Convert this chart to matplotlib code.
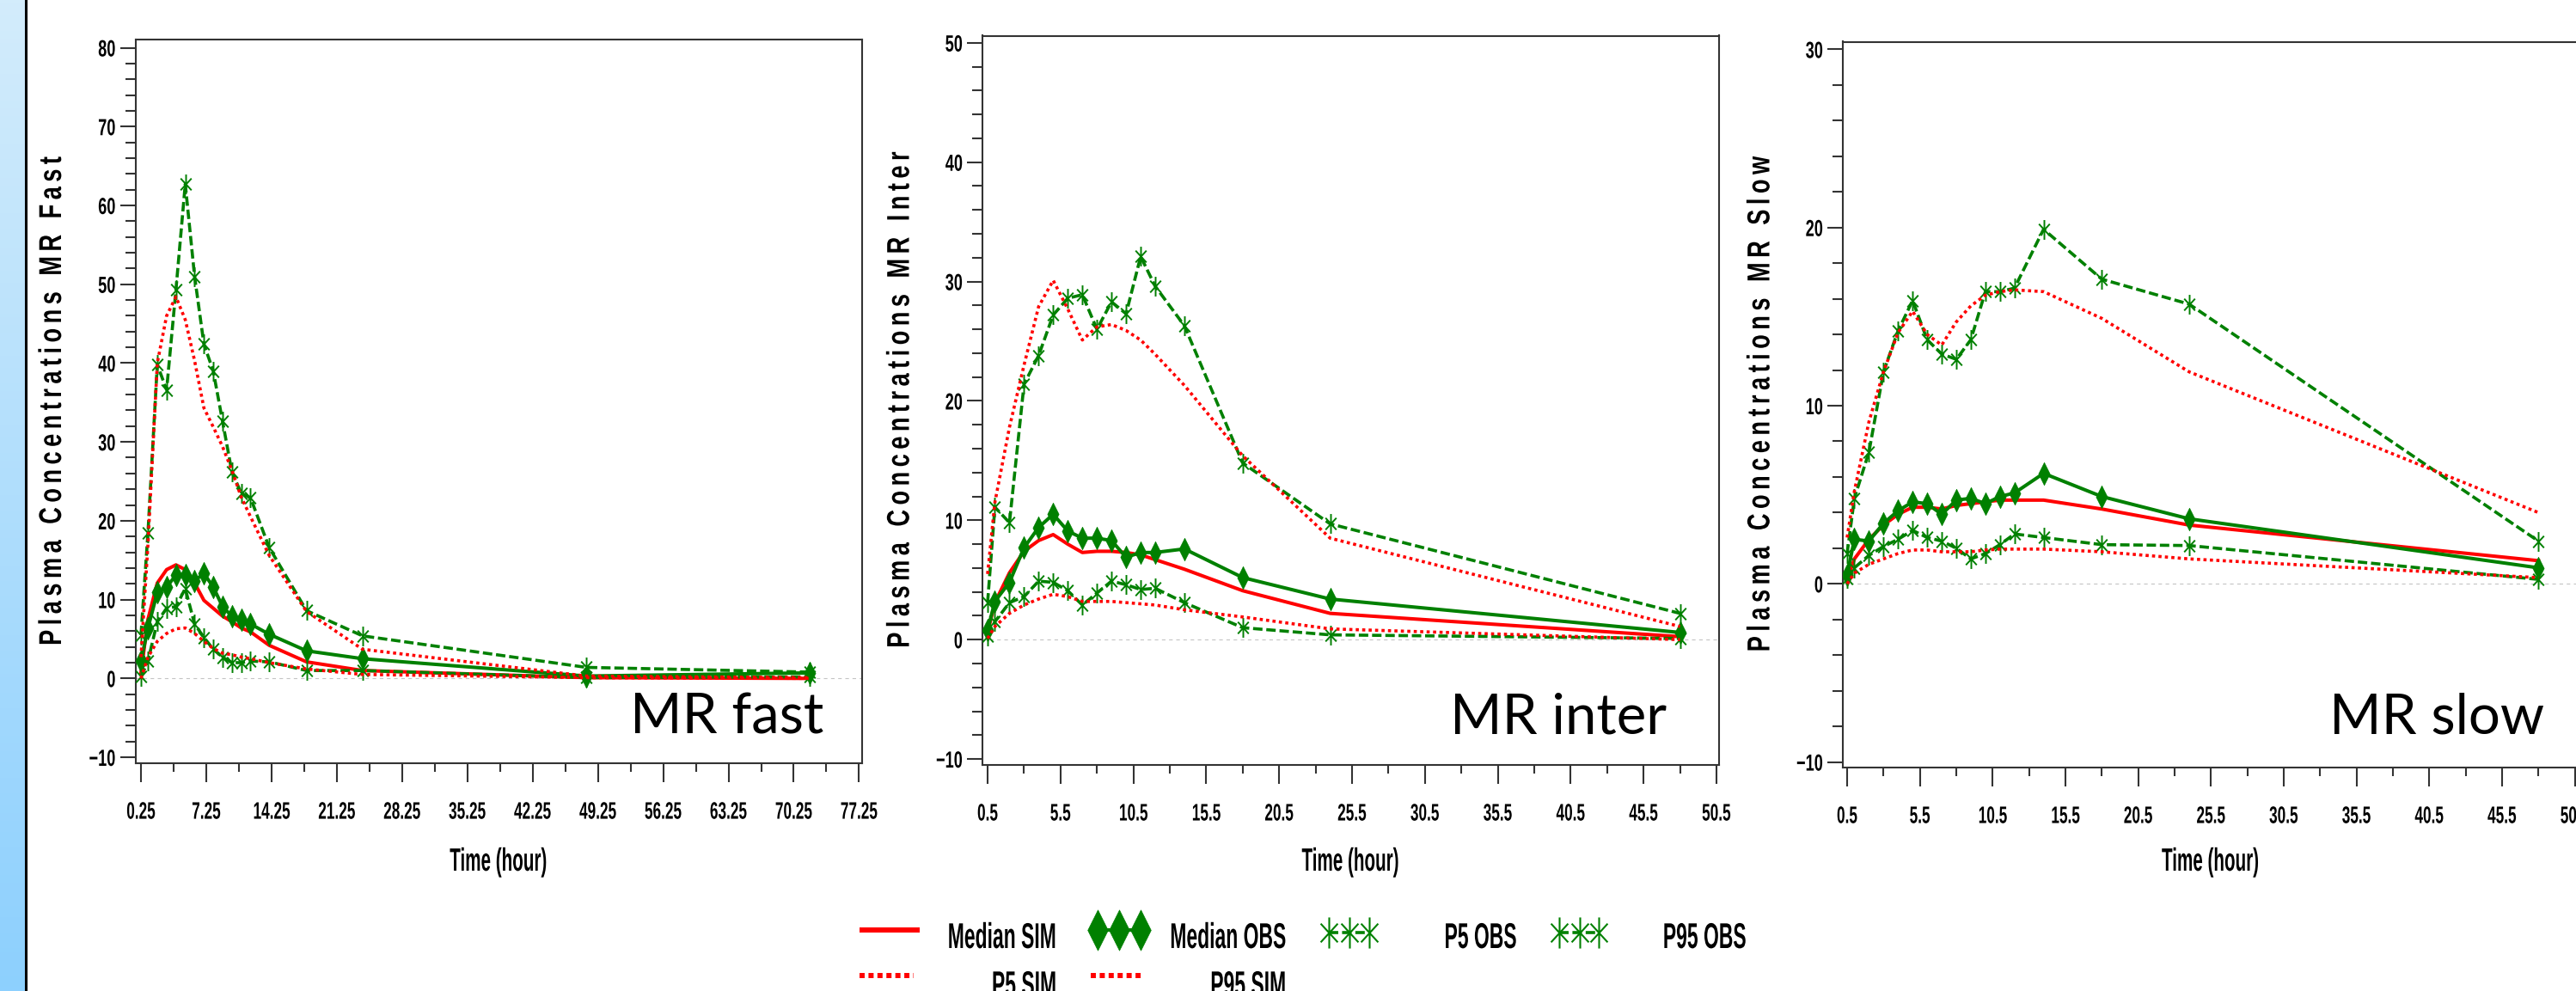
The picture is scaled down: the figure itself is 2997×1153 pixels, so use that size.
import numpy as np
import matplotlib
matplotlib.use('Agg')
import matplotlib.pyplot as plt
from matplotlib.patheffects import AbstractPathEffect
from matplotlib.transforms import Affine2D
from matplotlib.path import Path
from matplotlib.lines import Line2D
from matplotlib.ticker import MultipleLocator
from matplotlib.colors import LinearSegmentedColormap

plt.rcParams['font.family'] = ['Liberation Sans', 'DejaVu Sans']
plt.rcParams['lines.scale_dashes'] = False

# --- data ---
t_fast = [0.25, 1, 2, 3, 4, 5, 6, 7, 8, 9, 10, 11, 12, 14, 18, 24, 48, 72]
fast_med_sim = [0.7, 7.5, 12.1, 13.8, 14.4, 13.8, 12.1, 9.9, 8.9, 7.9, 7.2, 6.4, 5.9, 4.2, 2.1, 1.0, 0.1, 0.0]
fast_med_obs = [2.2, 6.4, 10.9, 11.6, 13.1, 13.1, 12.4, 13.3, 11.6, 9.1, 7.9, 7.4, 6.9, 5.6, 3.5, 2.5, 0.3, 0.7]
fast_p5_obs = [0.2, 2.2, 7.2, 8.9, 9.1, 11.4, 6.9, 5.2, 3.7, 2.7, 2.0, 2.0, 2.2, 2.1, 1.0, 1.0, 0.1, 0.2]
fast_p95_obs = [5.5, 18.5, 39.8, 36.6, 49.3, 62.7, 51.0, 42.4, 39.0, 32.6, 26.2, 23.5, 22.9, 16.6, 8.6, 5.4, 1.4, 0.8]
fast_p5_sim = [0.0, 2.7, 4.7, 5.7, 6.3, 6.4, 5.7, 4.7, 3.8, 3.2, 3.0, 2.7, 2.5, 2.0, 1.2, 0.5, 0.1, 0.0]
fast_p95_sim = [2.7, 17.0, 40.0, 46.0, 48.4, 45.5, 40.3, 34.3, 31.9, 29.4, 26.4, 23.0, 20.5, 15.6, 8.5, 3.7, 0.3, 0.1]

t_mr = [0.5, 1, 2, 3, 4, 5, 6, 7, 8, 9, 10, 11, 12, 14, 18, 24, 48]
inter_med_sim = [0.6, 3.1, 5.6, 7.4, 8.3, 8.8, 8.0, 7.3, 7.4, 7.4, 7.3, 7.1, 6.7, 5.9, 4.1, 2.2, 0.25]
inter_med_obs = [0.8, 3.2, 4.8, 7.7, 9.4, 10.5, 9.1, 8.5, 8.5, 8.3, 6.9, 7.3, 7.3, 7.6, 5.2, 3.4, 0.6]
inter_p5_obs = [0.3, 1.5, 3.1, 3.6, 4.9, 4.8, 4.1, 2.9, 3.9, 4.9, 4.6, 4.2, 4.3, 3.1, 1.0, 0.4, 0.1]
inter_p95_obs = [3.1, 11.1, 9.8, 21.4, 23.8, 27.2, 28.6, 28.9, 26.0, 28.3, 27.3, 32.1, 29.6, 26.3, 14.8, 9.7, 2.2]
inter_p5_sim = [0.1, 1.1, 2.2, 2.9, 3.4, 3.8, 3.6, 3.2, 3.2, 3.2, 3.1, 3.0, 2.9, 2.5, 1.9, 0.9, 0.0]
inter_p95_sim = [5.5, 11.5, 17.8, 23.0, 27.9, 30.1, 27.7, 25.1, 26.2, 26.4, 25.9, 25.1, 23.9, 21.3, 15.4, 8.5, 1.1]

slow_med_sim = [0.2, 1.4, 2.5, 3.3, 3.9, 4.3, 4.3, 4.2, 4.4, 4.5, 4.6, 4.7, 4.7, 4.7, 4.2, 3.3, 1.3]
slow_med_obs = [0.5, 2.5, 2.4, 3.4, 4.1, 4.6, 4.5, 3.9, 4.7, 4.8, 4.5, 4.9, 5.1, 6.2, 4.9, 3.65, 0.9]
slow_p5_obs = [0.3, 0.9, 1.6, 2.1, 2.5, 3.0, 2.6, 2.4, 2.0, 1.4, 1.7, 2.2, 2.8, 2.6, 2.2, 2.15, 0.25]
slow_p95_obs = [1.7, 4.8, 7.4, 11.9, 14.2, 15.9, 13.7, 12.9, 12.6, 13.7, 16.4, 16.4, 16.6, 19.9, 17.1, 15.7, 2.4]
slow_p5_sim = [0.0, 0.6, 1.1, 1.4, 1.7, 1.9, 1.9, 1.8, 1.8, 1.8, 1.9, 1.95, 1.95, 1.95, 1.8, 1.4, 0.35]
slow_p95_sim = [2.6, 5.2, 9.1, 11.9, 14.1, 15.3, 14.0, 13.4, 14.7, 15.6, 16.2, 16.4, 16.5, 16.4, 14.9, 11.9, 4.0]

panel_names = ['MR fast', 'MR inter', 'MR slow']
ylabels = ['Plasma Concentrations MR Fast', 'Plasma Concentrations MR Inter', 'Plasma Concentrations MR Slow']
legend_labels = ['Median SIM', 'Median OBS', 'P5 OBS', 'P95 OBS', 'P5 SIM', 'P95 SIM']

GREEN = '#008000'
RED = '#ff0000'
DARK = '#333333'


# the SAS graphs were pasted squashed sideways, so its text is narrow
class Squeeze(AbstractPathEffect):
    def __init__(self, sx, anchor='center'):
        super().__init__()
        self.sx = sx
        self.anchor = anchor

    def draw_path(self, renderer, gc, tpath, affine, rgbFace=None):
        ext = tpath.get_extents()
        x0 = {'left': ext.x0, 'center': 0.5 * (ext.x0 + ext.x1), 'right': ext.x1}[self.anchor]
        sq = Affine2D().translate(-x0, 0).scale(self.sx, 1).translate(x0, 0)
        renderer.draw_path(gc, tpath, sq + affine, rgbFace)


def spaced(s):
    # SAS letter-spaces its rotated axis labels
    words = s.split(' ')
    return '\u2009 \u2009'.join('\u2009'.join(w) for w in words)


diamond = Path([(0, -1), (0.5, 0), (0, 1), (-0.5, 0), (0, -1)],
               [Path.MOVETO, Path.LINETO, Path.LINETO, Path.LINETO, Path.CLOSEPOLY])
star = Path([(0, -1), (0, 1), (-0.55, -0.6), (0.55, 0.6), (-0.55, 0.6), (0.55, -0.6)],
            [Path.MOVETO, Path.LINETO] * 3)

DASH = (0, (7.9, 3.2))
DOT = (0, (2.6, 2.8))

W, H = 2997, 1153
fig = plt.figure(figsize=(W / 100, H / 100), dpi=100, facecolor='white')


def fx(px):
    return px / W


def fy(py):
    return 1 - py / H


# blue strip on the left
bar = fig.add_axes([0, 0, fx(29), 1])
grad = np.linspace(0, 1, 256)[:, None]
bar.imshow(grad, aspect='auto', cmap=LinearSegmentedColormap.from_list('b', ['#d3ecfb', '#8dd0fe']))
bar.axis('off')
fig.add_artist(Line2D([fx(30), fx(30)], [0, 1], color='black', lw=2.2))

# panel boxes in pixels: left, top, right, bottom
boxes = [(157.5, 46, 1003, 888), (1143, 41.5, 2000, 890), (2144, 48.5, 3000, 893)]
xlims = [(-0.35, 77.58), (0.146, 50.68), (0.205, 50.76)]
ylims = [(-10.76, 81.04), (-10.5, 50.6), (-10.31, 30.43)]
ytops = [80, 50, 30]
times = [t_fast, t_mr, t_mr]
series = [
    [fast_med_sim, fast_med_obs, fast_p5_obs, fast_p95_obs, fast_p5_sim, fast_p95_sim],
    [inter_med_sim, inter_med_obs, inter_p5_obs, inter_p95_obs, inter_p5_sim, inter_p95_sim],
    [slow_med_sim, slow_med_obs, slow_p5_obs, slow_p95_obs, slow_p5_sim, slow_p95_sim],
]
label_x = [733, 1687, 2710]
ylab_x = [61.5, 1048, 2049]

for i in range(3):
    l, t, r, b = boxes[i]
    ax = fig.add_axes([fx(l), fy(b), (r - l) / W, (b - t) / H])
    x = times[i]
    med_sim, med_obs, p5_obs, p95_obs, p5_sim, p95_sim = series[i]

    ax.axhline(0, color='#c4c4c4', lw=0.8, ls=(0, (3, 3)), zorder=1)
    ax.plot(x, med_sim, color=RED, lw=2.9, zorder=3)
    ax.plot(x, med_obs, color=GREEN, lw=2.9, marker=diamond, ms=19,
            mfc=GREEN, mec=GREEN, mew=0.5, zorder=4)
    ax.plot(x, p5_obs, color=GREEN, lw=2.6, ls=DASH, marker=star, ms=16.5,
            mfc='none', mec=GREEN, mew=1.4, zorder=5)
    ax.plot(x, p95_obs, color=GREEN, lw=2.6, ls=DASH, marker=star, ms=16.5,
            mfc='none', mec=GREEN, mew=1.4, zorder=5)
    ax.plot(x, p5_sim, color=RED, lw=2.6, ls=DOT, zorder=6)
    ax.plot(x, p95_sim, color=RED, lw=2.6, ls=DOT, zorder=6)

    ax.set_xlim(*xlims[i])
    ax.set_ylim(*ylims[i])

    if i == 0:
        xt = np.arange(0.25, 78, 7)
        ax.xaxis.set_minor_locator(MultipleLocator(3.5, offset=0.25))
    else:
        xt = np.arange(0.5, 51, 5)
        ax.xaxis.set_minor_locator(MultipleLocator(2.5, offset=0.5))
    ax.set_xticks(xt, labels=[f'{v:g}' for v in xt])
    ax.set_yticks(np.arange(-10, ytops[i] + 1, 10))
    ax.yaxis.set_minor_locator(MultipleLocator(2))

    for sp in ax.spines.values():
        sp.set_color(DARK)
        sp.set_linewidth(1.5)
    ax.tick_params(axis='x', which='major', direction='out', length=15.6, width=1.5,
                   color=DARK, pad=16.5, labelsize=20)
    ax.tick_params(axis='x', which='minor', direction='out', length=7.2, width=1.5, color=DARK)
    ax.tick_params(axis='y', which='major', direction='out', length=13.3, width=1.5,
                   color=DARK, pad=3, labelsize=19.5)
    ax.tick_params(axis='y', which='minor', direction='out', length=8.6, width=1.5, color=DARK)
    for lab in ax.get_xticklabels():
        lab.set_fontweight('bold')
        lab.set_path_effects([Squeeze(0.62, 'center')])
    for lab in ax.get_yticklabels():
        lab.set_fontweight('bold')
        lab.set_path_effects([Squeeze(0.67, 'right')])

    ax.set_xlabel('Time (hour)', fontsize=27, fontweight='bold', va='center')
    ax.xaxis.set_label_coords(0.5, (b - 1003) / (b - t))
    ax.xaxis.label.set_path_effects([Squeeze(0.55, 'center')])
    ax.set_ylabel(spaced(ylabels[i]), fontsize=26.5, fontweight='bold', va='center')
    ax.yaxis.set_label_coords((ylab_x[i] - l) / (r - l), 0.5)
    ax.yaxis.label.set_path_effects([Squeeze(0.74, 'center')])

    fig.text(fx(label_x[i]), fy(853), panel_names[i], family=['Lato', 'DejaVu Sans'],
             fontsize=47, ha='left', va='baseline')

# legend drawn below the panels
lax = fig.add_axes([0, 0, 1, 1])
lax.set_xlim(0, W)
lax.set_ylim(H, 0)
lax.axis('off')
lax.plot([1000, 1070], [1082, 1082], color=RED, lw=4.3, solid_capstyle='butt')
lax.plot([1277, 1302, 1327], [1082] * 3, color=GREEN, lw=2.9, marker=diamond, ms=34,
         mfc=GREEN, mec=GREEN, mew=0.5)
lax.plot([1546, 1569.5, 1593], [1085] * 3, color=GREEN, lw=2.6, ls=DASH, marker=star, ms=26,
         mfc='none', mec=GREEN, mew=1.5)
lax.plot([1814, 1837.5, 1860], [1085] * 3, color=GREEN, lw=2.6, ls=DASH, marker=star, ms=26,
         mfc='none', mec=GREEN, mew=1.5)
lax.plot([1000, 1063], [1135, 1135], color=RED, lw=4.3, ls=(0, (4.3, 3.2)))
lax.plot([1269, 1331], [1135, 1135], color=RED, lw=4.3, ls=(0, (4.3, 3.2)))

leg_pos = [(1230, 1103), (1497, 1103), (1765, 1103), (2032, 1103), (1230, 1159), (1497, 1159)]
for txt, (px, py) in zip(legend_labels, leg_pos):
    fig.text(fx(px), fy(py), txt, fontsize=30, fontweight='bold', ha='right', va='baseline',
             path_effects=[Squeeze(0.55, 'right')])

fig.savefig('out.png', dpi=100)
